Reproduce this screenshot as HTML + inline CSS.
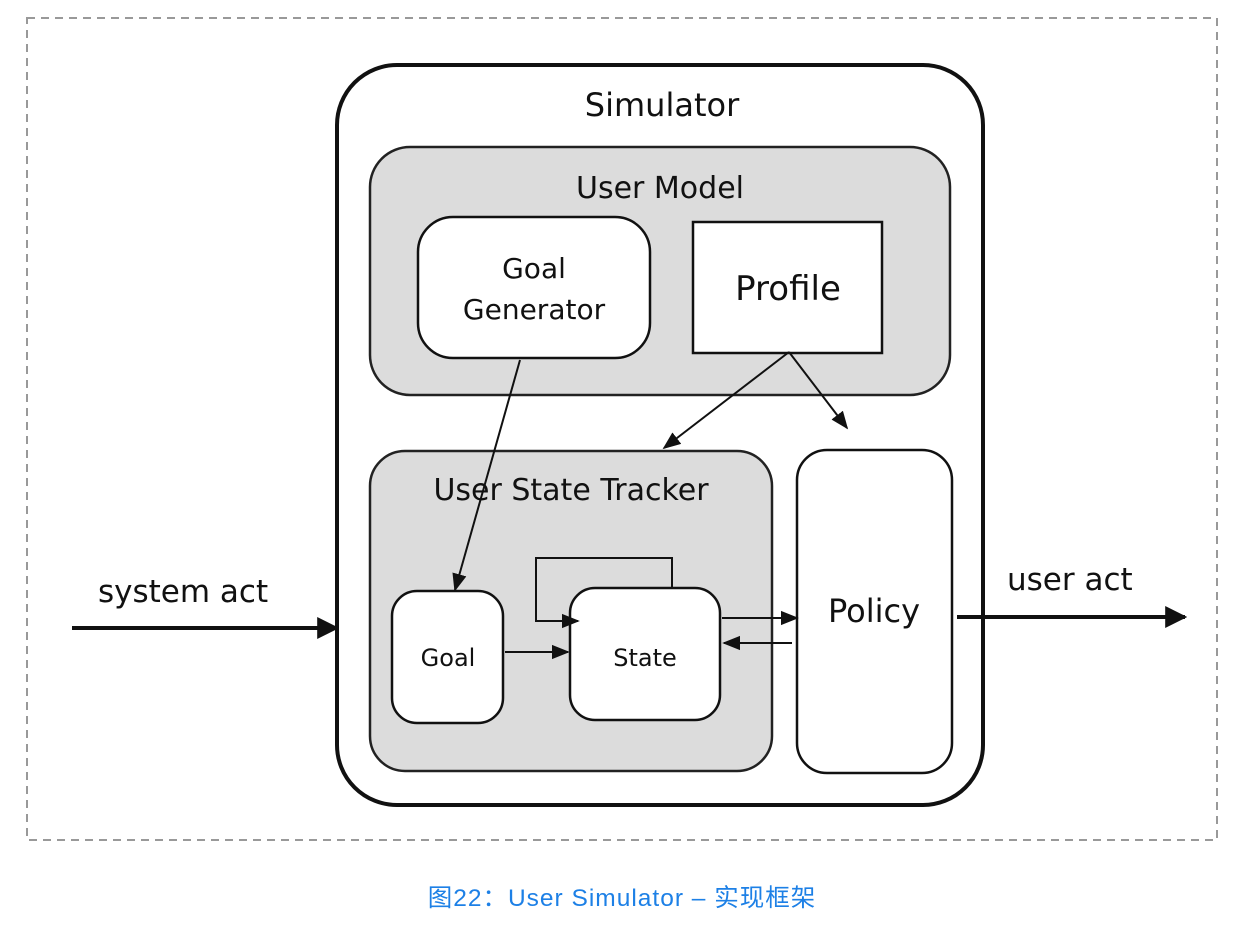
<!DOCTYPE html>
<html><head><meta charset="utf-8"><style>
html,body{margin:0;padding:0;background:#fff;width:1252px;height:930px;overflow:hidden}
svg{display:block}
text{font-family:"DejaVu Sans","Liberation Sans",sans-serif;fill:#111}
</style></head><body>
<svg width="1252" height="930" viewBox="0 0 1252 930" xmlns="http://www.w3.org/2000/svg">
<defs>
<marker id="b" viewBox="0 0 10 10" refX="9" refY="5" markerWidth="22" markerHeight="22" markerUnits="userSpaceOnUse" orient="auto"><path d="M0,0 L10,5 L0,10 z" fill="#111"/></marker>
<marker id="c" viewBox="0 0 10 10" refX="9" refY="5" markerWidth="18" markerHeight="18" markerUnits="userSpaceOnUse" orient="auto"><path d="M0,1 L10,5 L0,9 z" fill="#111"/></marker>
</defs>
<rect x="27" y="18" width="1190" height="822" fill="none" stroke="#999" stroke-width="2" stroke-dasharray="8,6"/>
<rect x="337" y="65" width="646" height="740" rx="60" fill="#fff" stroke="#111" stroke-width="4"/>
<text x="662" y="116" font-size="32" text-anchor="middle">Simulator</text>
<rect x="370" y="147" width="580" height="248" rx="40" fill="#dcdcdc" stroke="#222" stroke-width="2.5"/>
<text x="660" y="198" font-size="30" text-anchor="middle">User Model</text>
<rect x="418" y="217" width="232" height="141" rx="35" fill="#fff" stroke="#111" stroke-width="2.5"/>
<text x="534" y="278" font-size="28" text-anchor="middle">Goal</text>
<text x="534" y="319" font-size="28" text-anchor="middle">Generator</text>
<rect x="693" y="222" width="189" height="131" fill="#fff" stroke="#111" stroke-width="2.5"/>
<text x="788" y="300" font-size="34" text-anchor="middle">Profile</text>
<rect x="370" y="451" width="402" height="320" rx="35" fill="#dcdcdc" stroke="#222" stroke-width="2.5"/>
<text x="571" y="500" font-size="30" text-anchor="middle">User State Tracker</text>
<rect x="797" y="450" width="155" height="323" rx="30" fill="#fff" stroke="#111" stroke-width="2.5"/>
<text x="874" y="622" font-size="32" text-anchor="middle">Policy</text>
<rect x="392" y="591" width="111" height="132" rx="25" fill="#fff" stroke="#111" stroke-width="2.5"/>
<text x="448" y="666" font-size="24" text-anchor="middle">Goal</text>
<rect x="570" y="588" width="150" height="132" rx="25" fill="#fff" stroke="#111" stroke-width="2.5"/>
<text x="645" y="666" font-size="24" text-anchor="middle">State</text>
<g stroke="#111" stroke-width="2" fill="none">
<line x1="520" y1="360" x2="455" y2="590" marker-end="url(#c)"/>
<line x1="789" y1="352" x2="664" y2="448" marker-end="url(#c)"/>
<line x1="789" y1="352" x2="847" y2="428" marker-end="url(#c)"/>
<line x1="505" y1="652" x2="568" y2="652" marker-end="url(#c)"/>
<polyline points="672,588 672,558 536,558 536,621 578,621" marker-end="url(#c)"/>
<line x1="722" y1="618" x2="797" y2="618" marker-end="url(#c)"/>
<line x1="792" y1="643" x2="724" y2="643" marker-end="url(#c)"/>
<line x1="72" y1="628" x2="337" y2="628" stroke-width="4" marker-end="url(#b)"/>
<line x1="957" y1="617" x2="1185" y2="617" stroke-width="4" marker-end="url(#b)"/>
</g>
<text x="98" y="602" font-size="31">system act</text>
<text x="1007" y="590" font-size="31">user act</text>
<text x="622" y="906" font-size="24.5" text-anchor="middle" style="fill:#1d80e6;font-family:'Liberation Sans','Noto Sans CJK SC',sans-serif;letter-spacing:1px">图22：User Simulator – 实现框架</text>
</svg>
</body></html>
